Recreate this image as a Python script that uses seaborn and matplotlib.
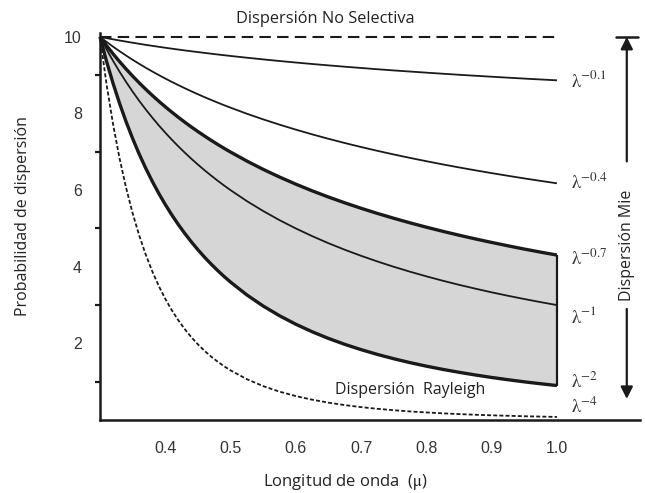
import matplotlib
matplotlib.use("Agg")
import matplotlib.pyplot as plt
import seaborn as sns
import pandas as pd

# ---- data ----
wavelength = [0.30, 0.31, 0.32, 0.33, 0.34, 0.35, 0.36, 0.37, 0.38, 0.39, 0.40,
              0.41, 0.42, 0.43, 0.44, 0.45, 0.46, 0.47, 0.48, 0.49, 0.50,
              0.525, 0.55, 0.575, 0.60, 0.625, 0.65, 0.675, 0.70, 0.725, 0.75,
              0.775, 0.80, 0.825, 0.85, 0.875, 0.90, 0.925, 0.95, 0.975, 1.00]
p_01 = [10.0, 9.967, 9.936, 9.905, 9.876, 9.847, 9.819, 9.792, 9.766, 9.741, 9.716,
        9.692, 9.669, 9.646, 9.624, 9.603, 9.582, 9.561, 9.541, 9.521, 9.502,
        9.456, 9.412, 9.370, 9.330, 9.292, 9.256, 9.221, 9.188, 9.155, 9.124,
        9.095, 9.066, 9.038, 9.011, 8.985, 8.960, 8.935, 8.911, 8.888, 8.866]
p_04 = [10.0, 9.870, 9.745, 9.626, 9.512, 9.402, 9.297, 9.195, 9.098, 9.004, 8.913,
        8.825, 8.741, 8.659, 8.580, 8.503, 8.428, 8.356, 8.286, 8.218, 8.152,
        7.994, 7.847, 7.709, 7.579, 7.456, 7.340, 7.230, 7.125, 7.026, 6.931,
        6.841, 6.755, 6.672, 6.593, 6.517, 6.444, 6.374, 6.306, 6.241, 6.178]
p_07 = [10.0, 9.773, 9.558, 9.355, 9.161, 8.977, 8.802, 8.635, 8.475, 8.322, 8.176,
        8.036, 7.902, 7.772, 7.648, 7.529, 7.414, 7.303, 7.196, 7.093, 6.994,
        6.759, 6.542, 6.342, 6.156, 5.982, 5.820, 5.669, 5.526, 5.392, 5.266,
        5.146, 5.033, 4.926, 4.824, 4.727, 4.635, 4.547, 4.462, 4.382, 4.305]
p_1 = [10.0, 9.677, 9.375, 9.091, 8.824, 8.571, 8.333, 8.108, 7.895, 7.692, 7.500,
       7.317, 7.143, 6.977, 6.818, 6.667, 6.522, 6.383, 6.250, 6.122, 6.000,
       5.714, 5.455, 5.217, 5.000, 4.800, 4.615, 4.444, 4.286, 4.138, 4.000,
       3.871, 3.750, 3.636, 3.529, 3.429, 3.333, 3.243, 3.158, 3.077, 3.000]
p_2 = [10.0, 9.365, 8.789, 8.264, 7.786, 7.347, 6.944, 6.574, 6.233, 5.917, 5.625,
       5.354, 5.102, 4.868, 4.649, 4.444, 4.253, 4.074, 3.906, 3.748, 3.600,
       3.265, 2.975, 2.722, 2.500, 2.304, 2.130, 1.975, 1.837, 1.712, 1.600,
       1.498, 1.406, 1.322, 1.246, 1.176, 1.111, 1.052, 0.997, 0.947, 0.900]
p_4 = [10.0, 8.770, 7.725, 6.829, 6.062, 5.398, 4.822, 4.322, 3.885, 3.501, 3.164,
       2.867, 2.603, 2.370, 2.161, 1.975, 1.809, 1.660, 1.526, 1.405, 1.296,
       1.066, 0.885, 0.741, 0.625, 0.531, 0.454, 0.390, 0.337, 0.293, 0.256,
       0.224, 0.198, 0.175, 0.155, 0.138, 0.123, 0.111, 0.099, 0.090, 0.081]
nonselective_x = [0.30, 1.005]
nonselective_y = [10.0, 10.0]

curve_labels = [r"$\mathrm{\lambda}^{-0.1}$", r"$\mathrm{\lambda}^{-0.4}$",
                r"$\mathrm{\lambda}^{-0.7}$", r"$\mathrm{\lambda}^{-1}$",
                r"$\mathrm{\lambda}^{-2}$", r"$\mathrm{\lambda}^{-4}$"]
label_y = [8.85, 6.2, 4.2, 2.7, 1.0, 0.35]
x_ticks = [0.3, 0.4, 0.5, 0.6, 0.7, 0.8, 0.9, 1.0]
x_ticklabels = ["", "0.4", "0.5", "0.6", "0.7", "0.8", "0.9", "1.0"]
y_ticks = [0, 2, 4, 6, 8, 10]
y_ticklabels = ["", "2", "4", "6", "8", "10"]

sns.set_style("white")
plt.rcParams["font.family"] = ["Open Sans", "DejaVu Sans"]
plt.rcParams["mathtext.fontset"] = "stix"

fig = plt.figure(figsize=(6.45, 4.93), dpi=100)
ax = fig.add_axes([0.155, 0.148, 0.837, 0.785])

ink = "#1a1a1a"
df = pd.DataFrame({"x": wavelength, "a": p_01, "b": p_04, "c": p_07,
                   "d": p_1, "e": p_2, "f": p_4})

ax.fill_between(df["x"], df["e"], df["c"], color="#d6d6d6", lw=0, zorder=1)

sns.lineplot(x=nonselective_x, y=nonselective_y, ax=ax, color=ink, lw=1.5, zorder=3)
ax.lines[-1].set_dashes([5.5, 3])
sns.lineplot(data=df, x="x", y="a", ax=ax, color=ink, lw=1.3, zorder=3)
sns.lineplot(data=df, x="x", y="b", ax=ax, color=ink, lw=1.3, zorder=3)
sns.lineplot(data=df, x="x", y="c", ax=ax, color=ink, lw=2.4, zorder=3)
sns.lineplot(data=df, x="x", y="d", ax=ax, color=ink, lw=1.3, zorder=3)
sns.lineplot(data=df, x="x", y="e", ax=ax, color=ink, lw=2.4, zorder=3)
sns.lineplot(data=df, x="x", y="f", ax=ax, color=ink, lw=1.3, zorder=3)
ax.lines[-1].set_dashes([2.2, 1.2])
for ln in ax.lines:
    ln.set_clip_on(False)
    ln.set_solid_capstyle("butt")

ax.vlines(wavelength[-1], p_2[-1], p_07[-1], color=ink, lw=1.6, zorder=3)

ax.set_xlim(0.3, 1.127)
ax.set_ylim(0, 10.1)
ax.set_xticks(x_ticks)
ax.set_xticklabels(x_ticklabels, family="Liberation Sans", fontsize=11.5, color="#333333")
ax.set_yticks(y_ticks)
ax.set_yticklabels(y_ticklabels, family="Liberation Sans", fontsize=11.5, color="#333333")
ax.set_yticks([1, 3, 5, 7, 9], minor=True)
ax.tick_params(axis="both", which="major", direction="out", length=6, width=1.6,
               color=ink)
ax.tick_params(axis="y", which="minor", direction="out", length=3.5, width=1.6,
               color=ink, left=True)
ax.tick_params(axis="x", pad=9)
ax.tick_params(axis="y", pad=7)
for s in ["top", "right"]:
    ax.spines[s].set_visible(False)
for s in ["left", "bottom"]:
    ax.spines[s].set_linewidth(1.8)
    ax.spines[s].set_color(ink)

ax.set_xlabel("Longitud de onda  ($\\mathrm{\\mu}$)", fontsize=12, color="#222222")
ax.xaxis.set_label_coords(0.454, -0.135)
ax.set_ylabel("Probabilidad de dispersión", fontsize=11.5, color="#222222")
ax.yaxis.set_label_coords(-0.128, 0.527)

for lab, yy in zip(curve_labels, label_y):
    ax.text(1.022, yy, lab, fontsize=13.5, color="#333333", va="center", ha="left",
            clip_on=False)

ax.text(0.645, 10.46, "Dispersión No Selectiva", fontsize=11.8, color="#222222",
        ha="center", va="center", clip_on=False)
ax.text(0.66, 0.78, "Dispersión  Rayleigh", fontsize=11.5, color="#222222",
        ha="left", va="center")

# Mie bracket
ax_x = 1.107
ax.plot([ax_x - 0.017, ax_x + 0.017], [10, 10], color=ink, lw=1.8, clip_on=False)
ax.annotate("", xy=(ax_x, 10.0), xytext=(ax_x, 6.75),
            arrowprops=dict(arrowstyle="-|>", color=ink, lw=1.6,
                            mutation_scale=18, shrinkA=0, shrinkB=0),
            annotation_clip=False)
ax.annotate("", xy=(ax_x, 0.55), xytext=(ax_x, 2.9),
            arrowprops=dict(arrowstyle="-|>", color=ink, lw=1.6,
                            mutation_scale=18, shrinkA=0, shrinkB=0),
            annotation_clip=False)
ax.text(ax_x, 4.55, "Dispersión Mie", rotation=90, fontsize=11.5, color="#222222",
        ha="center", va="center", clip_on=False)

fig.savefig("out.png", dpi=100)
